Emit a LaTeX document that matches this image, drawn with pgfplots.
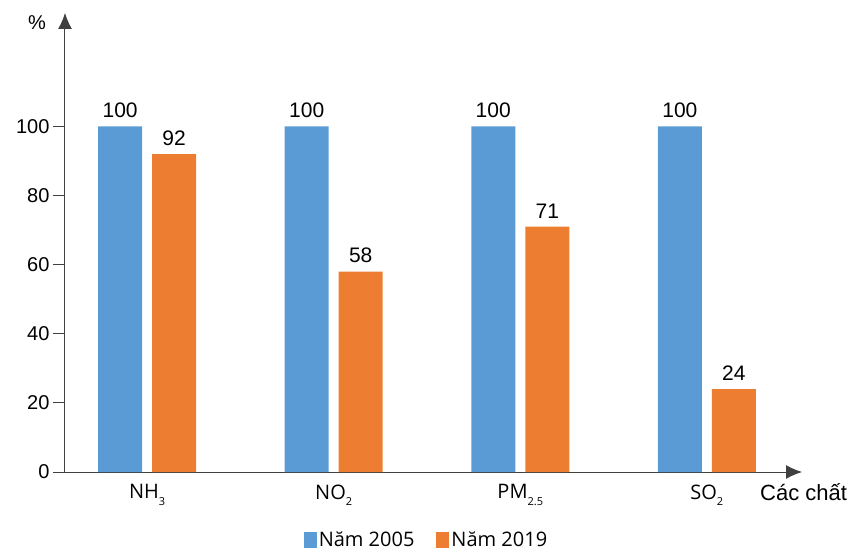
\documentclass[border=0pt]{standalone}
\usepackage{fontspec}
\setmainfont{Liberation Sans}
\newfontfamily\lblfont{Open Sans}
\usepackage{pgfplots}
\pgfplotsset{compat=1.18}
\usetikzlibrary{arrows.meta}
\definecolor{cblue}{HTML}{5B9BD5}
\definecolor{corange}{HTML}{ED7D31}
\definecolor{axcol}{HTML}{404040}
\newcommand\sub[1]{\raisebox{-0.6ex}{\fontsize{11}{11}\selectfont #1}}
\begin{document}
\begin{tikzpicture}
\useasboundingbox (-65pt,-80pt) rectangle (795pt,472pt);
\begin{axis}[
  at={(0pt,0pt)}, anchor=south west,
  scale only axis, width=737pt, height=459pt,
  xmin=-0.44, xmax=3.51, ymin=0, ymax=132.8,
  clip=false,
  axis lines=left,
  axis line style={axcol, line width=1pt, -{Latex[length=16pt,width=14pt]}},
  ybar,
  /pgf/number format/assume math mode=true,
  xtick={0,1,2,3},
  xticklabels={NH\sub{3}, NO\sub{2}, PM\sub{2.5}, SO\sub{2}},
  ytick={0,20,40,60,80,100},
  tick align=outside, major tick length=12pt,
  x tick style={draw=none},
  y tick style={axcol, line width=0.8pt},
  y tick label style={font=\fontsize{20}{20}\selectfont},
  x tick label style={font=\lblfont\fontsize{20}{20}\selectfont, yshift=3pt},
  nodes near coords,
  every node near coord/.append style={font=\fontsize{21}{21}\selectfont, text=black, yshift=5pt},
  legend style={draw=none, fill=none, at={(0.4905,-0.148)}, anchor=center,
    legend columns=2, font=\lblfont\fontsize{20}{20}\selectfont,
    /tikz/every even column/.append style={column sep=20pt}},
  legend image code/.code={\fill[#1, draw=none] (0pt,-8pt) rectangle (13pt,8pt);},
]
\addplot[fill=cblue, draw=none, bar width=44pt, bar shift=-27pt]
  coordinates {(0,100) (1,100) (2,100) (3,100)};
\addplot[fill=corange, draw=none, bar width=44pt, bar shift=27pt]
  coordinates {(0,92) (1,58) (2,71) (3,24)};
\legend{Năm 2005, Năm 2019}
\node[font=\fontsize{20}{20}\selectfont, inner sep=0pt] at (rel axis cs:-0.038,0.978) {\%};
\node[font=\fontsize{22}{22}\selectfont, inner sep=0pt, anchor=west] at (rel axis cs:0.943,-0.0436) {Các chất};
\end{axis}
\end{tikzpicture}
\end{document}
